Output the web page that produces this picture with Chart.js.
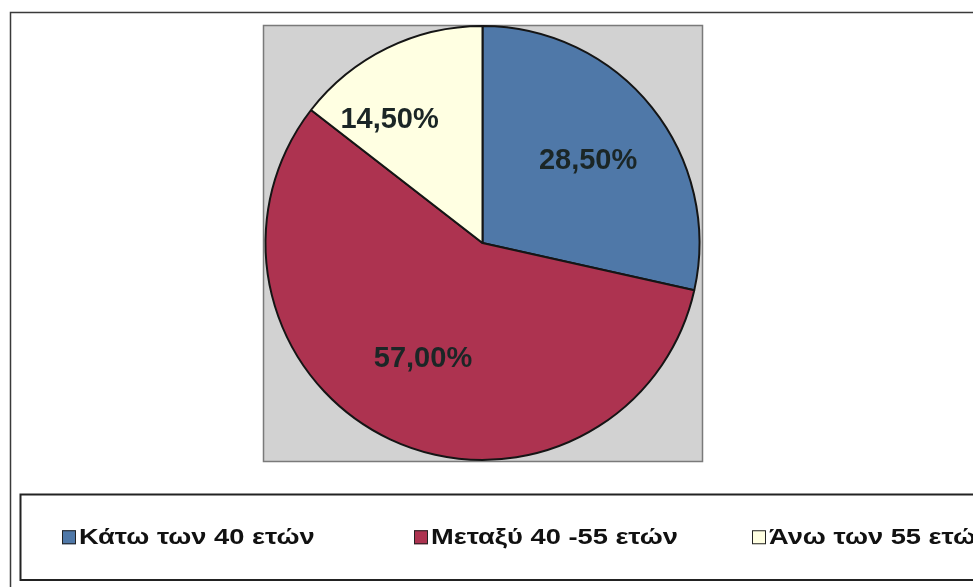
<!DOCTYPE html>
<html>
<head>
<meta charset="utf-8">
<script src="https://cdn.jsdelivr.net/npm/chart.js@4/dist/chart.umd.min.js"></script>
<style>
  html, body { margin: 0; padding: 0; background: #fff; }
  #wrap { width: 973px; height: 587px; position: relative; }
</style>
</head>
<body>
<div id="wrap"><canvas id="ageChart" width="973" height="587"></canvas></div>
<script>
// data
const categories = ['Κάτω των 40 ετών', 'Μεταξύ 40 -55 ετών', 'Άνω των 55 ετών'];
const shares = [28.5, 57.0, 14.5];
const sliceColors = ['#4f78a8', '#ad3350', '#ffffe2'];

const fmtPct = v => v.toFixed(2).replace('.', ',') + '%';

// grey plot box + outer frame, drawn under the pie
const frames = {
  id: 'frames',
  beforeDraw(chart) {
    const { ctx, chartArea: a } = chart;
    ctx.save();
    ctx.fillStyle = '#fff';
    ctx.fillRect(0, 0, chart.width, chart.height);
    // outer frame
    ctx.strokeStyle = '#3a3a3a';
    ctx.lineWidth = 1.5;
    ctx.strokeRect(10.5, 12.5, chart.width + 20, chart.height + 20);
    // plot area
    ctx.fillStyle = '#d2d2d2';
    ctx.fillRect(a.left, a.top, a.right - a.left, a.bottom - a.top);
    ctx.strokeStyle = '#7a7a7a';
    ctx.lineWidth = 1.5;
    ctx.strokeRect(a.left + 0.5, a.top + 0.5, a.right - a.left, a.bottom - a.top);
    ctx.restore();
  }
};

// percentage labels on slices
const sliceLabels = {
  id: 'sliceLabels',
  afterDatasetsDraw(chart, args, opts) {
    const { ctx } = chart;
    const meta = chart.getDatasetMeta(0);
    ctx.save();
    ctx.font = opts.font;
    ctx.fillStyle = opts.color;
    ctx.textAlign = 'center';
    ctx.textBaseline = 'middle';
    meta.data.forEach((arc, i) => {
      const mid = (arc.startAngle + arc.endAngle) / 2 + opts.angleShift[i] * Math.PI / 180;
      const r = arc.outerRadius * opts.radius[i];
      const x = arc.x + Math.cos(mid) * r;
      const y = arc.y + Math.sin(mid) * r;
      ctx.fillText(fmtPct(chart.data.datasets[0].data[i]), x, y);
    });
    ctx.restore();
  }
};

// boxed legend along the bottom
const boxLegend = {
  id: 'boxLegend',
  afterDraw(chart, args, opts) {
    const { ctx } = chart;
    ctx.save();
    ctx.strokeStyle = '#222';
    ctx.lineWidth = 2;
    ctx.strokeRect(opts.left, opts.top, chart.width, opts.bottom - opts.top);
    const cy = (opts.top + opts.bottom) / 2;
    ctx.font = opts.font;
    ctx.textBaseline = 'middle';
    ctx.textAlign = 'left';
    chart.data.labels.forEach((lab, i) => {
      const x = opts.itemX[i];
      const s = opts.box;
      ctx.fillStyle = chart.data.datasets[0].backgroundColor[i];
      ctx.fillRect(x, cy - s / 2, s, s);
      ctx.strokeStyle = '#222';
      ctx.lineWidth = 1;
      ctx.strokeRect(x + 0.5, cy - s / 2 + 0.5, s - 1, s - 1);
      ctx.fillStyle = '#111';
      ctx.save();
      ctx.translate(x + s + 3, cy + 1);
      ctx.scale(opts.stretch, 1);
      ctx.fillText(lab, 0, 0);
      ctx.restore();
    });
    ctx.restore();
  }
};

new Chart(document.getElementById('ageChart'), {
  type: 'pie',
  data: {
    labels: categories,
    datasets: [{
      data: shares,
      backgroundColor: sliceColors,
      borderColor: '#151515',
      borderWidth: 2
    }]
  },
  options: {
    responsive: false,
    animation: false,
    layout: { padding: { left: 263, right: 271, top: 25, bottom: 126 } },
    plugins: {
      legend: { display: false },
      tooltip: { enabled: false },
      sliceLabels: {
        font: 'bold 29px "Liberation Sans", Arial, sans-serif',
        color: '#1b2626',
        radius: [0.615, 0.6, 0.71],
        angleShift: [1, 2, -11]
      },
      boxLegend: {
        left: 20.5, top: 494.5, bottom: 580,
        itemX: [62, 414, 752],
        box: 14,
        stretch: 1.24,
        font: 'bold 22px "Liberation Sans", Arial, sans-serif'
      }
    }
  },
  plugins: [frames, sliceLabels, boxLegend]
});
</script>
</body>
</html>
